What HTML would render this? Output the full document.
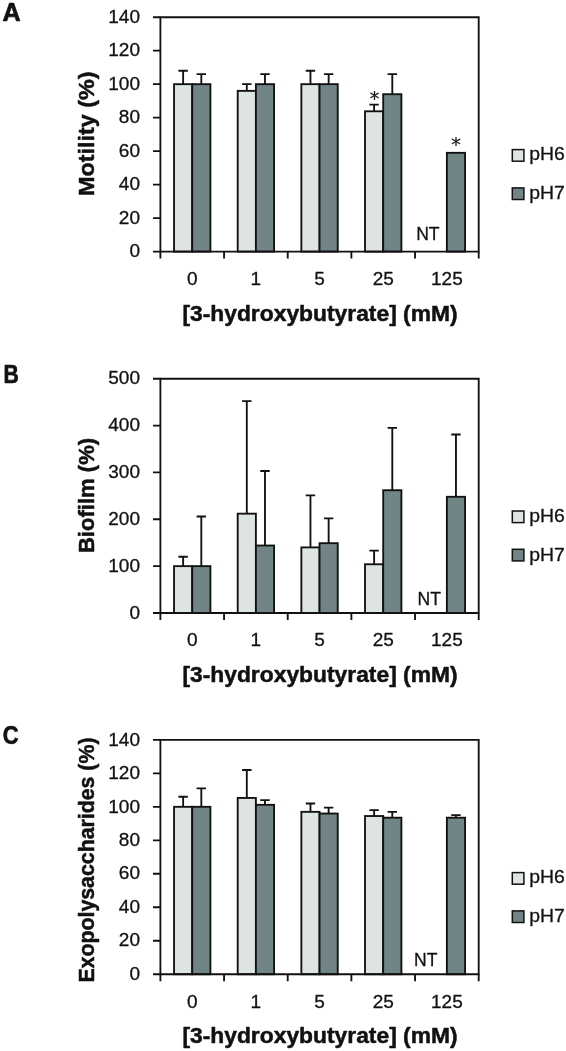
<!DOCTYPE html>
<html lang="en">
<head>
<meta charset="utf-8">
<title>Effect of 3-hydroxybutyrate on motility, biofilm and exopolysaccharides</title>
<style>
html,body{margin:0;padding:0;background:#fff;}
body{width:566px;height:1051px;overflow:hidden;}
svg{display:block;will-change:transform;}
svg text{font-family:"Liberation Sans", Arial, sans-serif;fill:#111111;stroke:#111;stroke-width:0.3px;stroke-linejoin:round;}
svg text.b{stroke:#111;stroke-width:0.5px;stroke-linejoin:round;}
svg text.s{font-family:"DejaVu Sans","Liberation Sans",sans-serif;stroke-width:0.2px;}
svg text.c{stroke:#111;stroke-width:0.7px;stroke-linejoin:round;}
</style>
</head>
<body>
<svg width="566" height="1051" viewBox="0 0 566 1051">
<rect width="566" height="1051" fill="#ffffff"/>
<g>
<path d="M183.14 84.17V70.78M178.44 70.78H187.84" fill="none" stroke="#111111" stroke-width="1.85"/>
<rect x="174.04" y="84.17" width="18.19" height="167.43" fill="#dde4e3" stroke="#111111" stroke-width="1.85"/>
<path d="M201.32 84.17V74.13M196.62 74.13H206.02" fill="none" stroke="#111111" stroke-width="1.85"/>
<rect x="192.23" y="84.17" width="18.19" height="167.43" fill="#718587" stroke="#111111" stroke-width="1.85"/>
<path d="M246.8 90.87V84.17M242.1 84.17H251.5" fill="none" stroke="#111111" stroke-width="1.85"/>
<rect x="237.7" y="90.87" width="18.19" height="160.73" fill="#dde4e3" stroke="#111111" stroke-width="1.85"/>
<path d="M264.98 84.17V74.13M260.28 74.13H269.68" fill="none" stroke="#111111" stroke-width="1.85"/>
<rect x="255.89" y="84.17" width="18.19" height="167.43" fill="#718587" stroke="#111111" stroke-width="1.85"/>
<path d="M310.46 84.17V70.78M305.76 70.78H315.16" fill="none" stroke="#111111" stroke-width="1.85"/>
<rect x="301.36" y="84.17" width="18.19" height="167.43" fill="#dde4e3" stroke="#111111" stroke-width="1.85"/>
<path d="M328.64 84.17V74.13M323.94 74.13H333.34" fill="none" stroke="#111111" stroke-width="1.85"/>
<rect x="319.55" y="84.17" width="18.19" height="167.43" fill="#718587" stroke="#111111" stroke-width="1.85"/>
<path d="M374.12 111.29V104.6M369.42 104.6H378.82" fill="none" stroke="#111111" stroke-width="1.85"/>
<rect x="365.02" y="111.29" width="18.19" height="140.31" fill="#dde4e3" stroke="#111111" stroke-width="1.85"/>
<path d="M392.3 94.22V74.13M387.6 74.13H397" fill="none" stroke="#111111" stroke-width="1.85"/>
<rect x="383.21" y="94.22" width="18.19" height="157.38" fill="#718587" stroke="#111111" stroke-width="1.85"/>
<rect x="446.87" y="152.82" width="18.19" height="98.78" fill="#718587" stroke="#111111" stroke-width="1.85"/>
<path d="M160.4 17.2H478.7V251.6H160.4Z" fill="none" stroke="#111111" stroke-width="1.85"/>
<path d="M153 251.6H160.4M153 218.11H160.4M153 184.63H160.4M153 151.14H160.4M153 117.66H160.4M153 84.17H160.4M153 50.69H160.4M153 17.2H160.4M160.4 251.6V258.6M224.06 251.6V258.6M287.72 251.6V258.6M351.38 251.6V258.6M415.04 251.6V258.6M478.7 251.6V258.6" fill="none" stroke="#111111" stroke-width="1.85"/>
<text x="140" y="257.3" text-anchor="end" font-size="19">0</text>
<text x="140" y="223.81" text-anchor="end" font-size="19">20</text>
<text x="140" y="190.33" text-anchor="end" font-size="19">40</text>
<text x="140" y="156.84" text-anchor="end" font-size="19">60</text>
<text x="140" y="123.36" text-anchor="end" font-size="19">80</text>
<text x="140" y="89.87" text-anchor="end" font-size="19">100</text>
<text x="140" y="56.39" text-anchor="end" font-size="19">120</text>
<text x="140" y="22.9" text-anchor="end" font-size="19">140</text>
<text x="192.23" y="285.2" text-anchor="middle" font-size="19">0</text>
<text x="255.89" y="285.2" text-anchor="middle" font-size="19">1</text>
<text x="319.55" y="285.2" text-anchor="middle" font-size="19">5</text>
<text x="383.21" y="285.2" text-anchor="middle" font-size="19">25</text>
<text x="446.87" y="285.2" text-anchor="middle" font-size="19">125</text>
<text x="427.9" y="239.8" text-anchor="middle" font-size="19" textLength="23.4" lengthAdjust="spacingAndGlyphs">NT</text>
<text x="374.62" y="104.7" text-anchor="middle" font-size="19" font-family="DejaVu Sans, Liberation Sans, sans-serif" class="s">*</text>
<text x="455.96" y="150.5" text-anchor="middle" font-size="19" font-family="DejaVu Sans, Liberation Sans, sans-serif" class="s">*</text>
<text transform="translate(94.4 196) rotate(-90)" x="0" y="0" font-size="22.5" font-weight="bold" class="b" textLength="124.6" lengthAdjust="spacingAndGlyphs">Motility (%)</text>
<text x="182.4" y="320.75" font-size="22.5" font-weight="bold" class="b" textLength="275.2" lengthAdjust="spacingAndGlyphs">[3-hydroxybutyrate] (mM)</text>
<text x="2.4" y="21.2" font-size="26.6" font-weight="bold" class="c" textLength="18.2" lengthAdjust="spacingAndGlyphs">A</text>
<rect x="512.3" y="149.6" width="11.6" height="11.6" fill="#dde4e3" stroke="#111111" stroke-width="1.5"/>
<text x="529.3" y="160.2" font-size="19" textLength="35.6" lengthAdjust="spacingAndGlyphs">pH6</text>
<rect x="512.3" y="187.9" width="11.6" height="11.6" fill="#718587" stroke="#111111" stroke-width="1.5"/>
<text x="529.3" y="198.8" font-size="19" textLength="35.6" lengthAdjust="spacingAndGlyphs">pH7</text>
</g>
<g>
<path d="M183.14 566.14V556.77M178.44 556.77H187.84" fill="none" stroke="#111111" stroke-width="1.85"/>
<rect x="174.04" y="566.14" width="18.19" height="46.86" fill="#dde4e3" stroke="#111111" stroke-width="1.85"/>
<path d="M201.32 566.14V516.47M196.62 516.47H206.02" fill="none" stroke="#111111" stroke-width="1.85"/>
<rect x="192.23" y="566.14" width="18.19" height="46.86" fill="#718587" stroke="#111111" stroke-width="1.85"/>
<path d="M246.8 513.66V401.19M242.1 401.19H251.5" fill="none" stroke="#111111" stroke-width="1.85"/>
<rect x="237.7" y="513.66" width="18.19" height="99.34" fill="#dde4e3" stroke="#111111" stroke-width="1.85"/>
<path d="M264.98 545.52V471.01M260.28 471.01H269.68" fill="none" stroke="#111111" stroke-width="1.85"/>
<rect x="255.89" y="545.52" width="18.19" height="67.48" fill="#718587" stroke="#111111" stroke-width="1.85"/>
<path d="M310.46 547.4V495.38M305.76 495.38H315.16" fill="none" stroke="#111111" stroke-width="1.85"/>
<rect x="301.36" y="547.4" width="18.19" height="65.6" fill="#dde4e3" stroke="#111111" stroke-width="1.85"/>
<path d="M328.64 543.18V518.34M323.94 518.34H333.34" fill="none" stroke="#111111" stroke-width="1.85"/>
<rect x="319.55" y="543.18" width="18.19" height="69.82" fill="#718587" stroke="#111111" stroke-width="1.85"/>
<path d="M374.12 564.27V550.68M369.42 550.68H378.82" fill="none" stroke="#111111" stroke-width="1.85"/>
<rect x="365.02" y="564.27" width="18.19" height="48.73" fill="#dde4e3" stroke="#111111" stroke-width="1.85"/>
<path d="M392.3 490.23V427.9M387.6 427.9H397" fill="none" stroke="#111111" stroke-width="1.85"/>
<rect x="383.21" y="490.23" width="18.19" height="122.77" fill="#718587" stroke="#111111" stroke-width="1.85"/>
<path d="M455.96 496.79V434.46M451.26 434.46H460.66" fill="none" stroke="#111111" stroke-width="1.85"/>
<rect x="446.87" y="496.79" width="18.19" height="116.21" fill="#718587" stroke="#111111" stroke-width="1.85"/>
<path d="M160.4 378.7H478.7V613H160.4Z" fill="none" stroke="#111111" stroke-width="1.85"/>
<path d="M153 613H160.4M153 566.14H160.4M153 519.28H160.4M153 472.42H160.4M153 425.56H160.4M153 378.7H160.4M160.4 613V620M224.06 613V620M287.72 613V620M351.38 613V620M415.04 613V620M478.7 613V620" fill="none" stroke="#111111" stroke-width="1.85"/>
<text x="140" y="618.7" text-anchor="end" font-size="19">0</text>
<text x="140" y="571.84" text-anchor="end" font-size="19">100</text>
<text x="140" y="524.98" text-anchor="end" font-size="19">200</text>
<text x="140" y="478.12" text-anchor="end" font-size="19">300</text>
<text x="140" y="431.26" text-anchor="end" font-size="19">400</text>
<text x="140" y="384.4" text-anchor="end" font-size="19">500</text>
<text x="192.23" y="646.1" text-anchor="middle" font-size="19">0</text>
<text x="255.89" y="646.1" text-anchor="middle" font-size="19">1</text>
<text x="319.55" y="646.1" text-anchor="middle" font-size="19">5</text>
<text x="383.21" y="646.1" text-anchor="middle" font-size="19">25</text>
<text x="446.87" y="646.1" text-anchor="middle" font-size="19">125</text>
<text x="429.2" y="605" text-anchor="middle" font-size="19" textLength="23.4" lengthAdjust="spacingAndGlyphs">NT</text>
<text transform="translate(94.4 553.1) rotate(-90)" x="0" y="0" font-size="22.5" font-weight="bold" class="b" textLength="115.3" lengthAdjust="spacingAndGlyphs">Biofilm (%)</text>
<text x="182.4" y="682.05" font-size="22.5" font-weight="bold" class="b" textLength="275.2" lengthAdjust="spacingAndGlyphs">[3-hydroxybutyrate] (mM)</text>
<text x="3.6" y="382.5" font-size="26.6" font-weight="bold" class="c" textLength="15.3" lengthAdjust="spacingAndGlyphs">B</text>
<rect x="512.3" y="511" width="11.6" height="11.6" fill="#dde4e3" stroke="#111111" stroke-width="1.5"/>
<text x="529.3" y="522" font-size="19" textLength="35.6" lengthAdjust="spacingAndGlyphs">pH6</text>
<rect x="512.3" y="549.3" width="11.6" height="11.6" fill="#718587" stroke="#111111" stroke-width="1.5"/>
<text x="529.3" y="560.6" font-size="19" textLength="35.6" lengthAdjust="spacingAndGlyphs">pH7</text>
</g>
<g>
<path d="M183.14 806.82V796.78M178.44 796.78H187.84" fill="none" stroke="#111111" stroke-width="1.85"/>
<rect x="174.04" y="806.82" width="18.19" height="167.43" fill="#dde4e3" stroke="#111111" stroke-width="1.85"/>
<path d="M201.32 806.82V788.4M196.62 788.4H206.02" fill="none" stroke="#111111" stroke-width="1.85"/>
<rect x="192.23" y="806.82" width="18.19" height="167.43" fill="#718587" stroke="#111111" stroke-width="1.85"/>
<path d="M246.8 797.95V769.99M242.1 769.99H251.5" fill="none" stroke="#111111" stroke-width="1.85"/>
<rect x="237.7" y="797.95" width="18.19" height="176.3" fill="#dde4e3" stroke="#111111" stroke-width="1.85"/>
<path d="M264.98 804.81V800.12M260.28 800.12H269.68" fill="none" stroke="#111111" stroke-width="1.85"/>
<rect x="255.89" y="804.81" width="18.19" height="169.44" fill="#718587" stroke="#111111" stroke-width="1.85"/>
<path d="M310.46 811.84V803.47M305.76 803.47H315.16" fill="none" stroke="#111111" stroke-width="1.85"/>
<rect x="301.36" y="811.84" width="18.19" height="162.41" fill="#dde4e3" stroke="#111111" stroke-width="1.85"/>
<path d="M328.64 813.52V807.66M323.94 807.66H333.34" fill="none" stroke="#111111" stroke-width="1.85"/>
<rect x="319.55" y="813.52" width="18.19" height="160.73" fill="#718587" stroke="#111111" stroke-width="1.85"/>
<path d="M374.12 816.03V810.17M369.42 810.17H378.82" fill="none" stroke="#111111" stroke-width="1.85"/>
<rect x="365.02" y="816.03" width="18.19" height="158.22" fill="#dde4e3" stroke="#111111" stroke-width="1.85"/>
<path d="M392.3 817.7V811.84M387.6 811.84H397" fill="none" stroke="#111111" stroke-width="1.85"/>
<rect x="383.21" y="817.7" width="18.19" height="156.55" fill="#718587" stroke="#111111" stroke-width="1.85"/>
<path d="M455.96 817.7V815.19M451.26 815.19H460.66" fill="none" stroke="#111111" stroke-width="1.85"/>
<rect x="446.87" y="817.7" width="18.19" height="156.55" fill="#718587" stroke="#111111" stroke-width="1.85"/>
<path d="M160.4 739.85H478.7V974.25H160.4Z" fill="none" stroke="#111111" stroke-width="1.85"/>
<path d="M153 974.25H160.4M153 940.76H160.4M153 907.28H160.4M153 873.79H160.4M153 840.31H160.4M153 806.82H160.4M153 773.34H160.4M153 739.85H160.4M160.4 974.25V981.25M224.06 974.25V981.25M287.72 974.25V981.25M351.38 974.25V981.25M415.04 974.25V981.25M478.7 974.25V981.25" fill="none" stroke="#111111" stroke-width="1.85"/>
<text x="140" y="979.95" text-anchor="end" font-size="19">0</text>
<text x="140" y="946.46" text-anchor="end" font-size="19">20</text>
<text x="140" y="912.98" text-anchor="end" font-size="19">40</text>
<text x="140" y="879.49" text-anchor="end" font-size="19">60</text>
<text x="140" y="846.01" text-anchor="end" font-size="19">80</text>
<text x="140" y="812.52" text-anchor="end" font-size="19">100</text>
<text x="140" y="779.04" text-anchor="end" font-size="19">120</text>
<text x="140" y="745.55" text-anchor="end" font-size="19">140</text>
<text x="192.23" y="1007.85" text-anchor="middle" font-size="19">0</text>
<text x="255.89" y="1007.85" text-anchor="middle" font-size="19">1</text>
<text x="319.55" y="1007.85" text-anchor="middle" font-size="19">5</text>
<text x="383.21" y="1007.85" text-anchor="middle" font-size="19">25</text>
<text x="446.87" y="1007.85" text-anchor="middle" font-size="19">125</text>
<text x="425.7" y="966.4" text-anchor="middle" font-size="19" textLength="23.4" lengthAdjust="spacingAndGlyphs">NT</text>
<text transform="translate(94.4 982.6) rotate(-90)" x="0" y="0" font-size="22.5" font-weight="bold" class="b" textLength="245.1" lengthAdjust="spacingAndGlyphs">Exopolysaccharides (%)</text>
<text x="182.4" y="1042.7" font-size="22.5" font-weight="bold" class="b" textLength="275.2" lengthAdjust="spacingAndGlyphs">[3-hydroxybutyrate] (mM)</text>
<text x="2.8" y="744" font-size="26.6" font-weight="bold" class="c" textLength="15.8" lengthAdjust="spacingAndGlyphs">C</text>
<rect x="512.3" y="872.6" width="11.6" height="11.6" fill="#dde4e3" stroke="#111111" stroke-width="1.5"/>
<text x="529.3" y="883.3" font-size="19" textLength="35.6" lengthAdjust="spacingAndGlyphs">pH6</text>
<rect x="512.3" y="910.9" width="11.6" height="11.6" fill="#718587" stroke="#111111" stroke-width="1.5"/>
<text x="529.3" y="921.9" font-size="19" textLength="35.6" lengthAdjust="spacingAndGlyphs">pH7</text>
</g>
</svg>
</body>
</html>
